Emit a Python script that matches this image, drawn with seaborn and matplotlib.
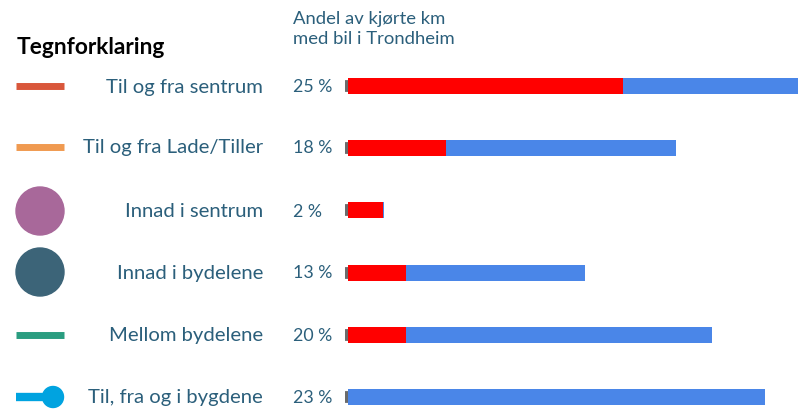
import matplotlib
matplotlib.use("Agg")
import matplotlib.pyplot as plt
import seaborn as sns
import pandas as pd
from matplotlib.patches import Circle
from matplotlib.lines import Line2D

categories = ["Til og fra sentrum", "Til og fra Lade/Tiller", "Innad i sentrum",
              "Innad i bydelene", "Mellom bydelene", "Til, fra og i bygdene"]
share_labels = ["25 %", "18 %", "2 %", "13 %", "20 %", "23 %"]
totals = [25.0, 18.0, 2.0, 13.0, 20.0, 22.9]
red_part = [15.1, 5.4, 1.9, 3.2, 3.2, 0.0]
header = "Andel av kjørte km\nmed bil i Trondheim"
legend_title = "Tegnforklaring"

W, H = 798, 410
sns.set_theme(style="white")
plt.rcParams["font.family"] = ["Lato", "DejaVu Sans"]

fig = plt.figure(figsize=(W / 100, H / 100), dpi=100)
fig.patch.set_facecolor("white")

x0 = 348 / W
ax = fig.add_axes([x0, 0.0, 1.0 - x0, 1.0])
df = pd.DataFrame({"cat": categories, "total": totals, "red": red_part})

sns.barplot(data=df, x="total", y="cat", orient="h", color="#4A86E8",
            width=0.26, saturation=1, ax=ax, edgecolor="none")
sns.barplot(data=df, x="red", y="cat", orient="h", color="#FF0000",
            width=0.26, saturation=1, ax=ax, edgecolor="none")

px_per_unit = 18.2
ax.set_xlim(0, (W - 348) / px_per_unit)
step = 62.2
top = 87
ax.set_ylim((H - top) / step, -top / step)
for s in ax.spines.values():
    s.set_visible(False)
ax.set_xticks([])
ax.set_yticks(range(len(categories)))
ax.set_yticklabels([])
ax.tick_params(axis="y", direction="out", length=2.5, width=8.5, color="#6b6b6b", left=True)
ax.set_xlabel("")
ax.set_ylabel("")
ax.set_facecolor("none")

txt_color = "#2B5F7B"

def fy(py):
    return 1 - py / H

def fx(px):
    return px / W

fig.text(fx(17), fy(47), legend_title, fontsize=16.4, fontweight="bold", color="black",
         ha="left", va="center")
fig.text(fx(293), fy(29), header, fontsize=13.3, color=txt_color, ha="left",
         va="center", linespacing=1.25)

ycent = [87, 148, 212, 273, 336, 398]
for i, (c, lab) in enumerate(zip(categories, share_labels)):
    fig.text(fx(263), fy(ycent[i]), c, fontsize=14.6, color=txt_color, ha="right", va="center")
    fig.text(fx(293), fy(ycent[i]), lab, fontsize=12.8, color=txt_color, ha="left", va="center")

# legend symbols
line_cols = {0: "#D9573B", 1: "#F09A50", 4: "#2A9D80"}
for i, col in line_cols.items():
    fig.add_artist(Line2D([fx(16), fx(64)], [fy(ycent[i]), fy(ycent[i])], color=col,
                          lw=5, solid_capstyle="butt", transform=fig.transFigure))

for i, col in {2: "#A8689A", 3: "#3C6478"}.items():
    fig.add_artist(Circle((16 + 24, H - ycent[i]), 24, color=col,
                          transform=None))

fig.add_artist(Line2D([fx(16), fx(52)], [fy(398), fy(398)], color="#00A3E0",
                      lw=6, solid_capstyle="butt", transform=fig.transFigure))
fig.add_artist(Circle((53, H - 398), 10.5, color="#00A3E0", transform=None))

fig.savefig("out.png", dpi=100, facecolor="white")
